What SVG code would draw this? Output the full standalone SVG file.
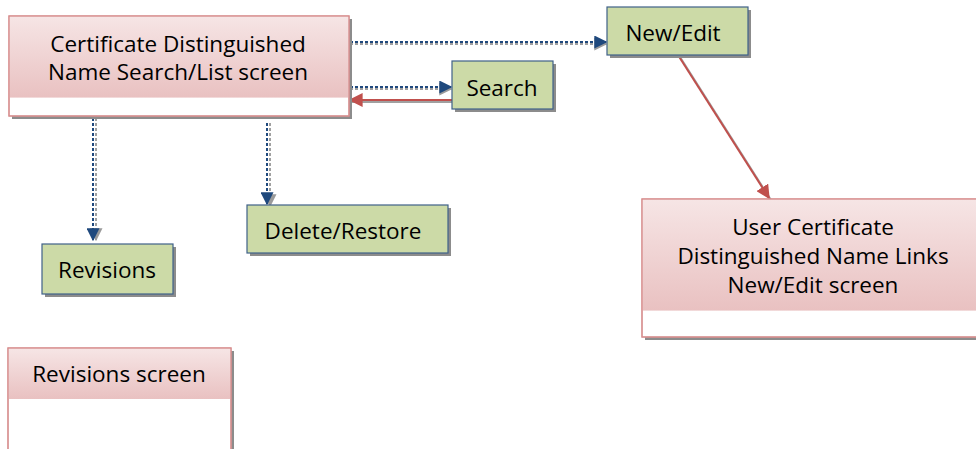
<svg xmlns="http://www.w3.org/2000/svg" width="976" height="449" viewBox="0 0 976 449">
<defs>
<linearGradient id="pink" x1="0" y1="0" x2="0" y2="1">
<stop offset="0" stop-color="#f6e5e5"/>
<stop offset="1" stop-color="#e9c1c1"/>
</linearGradient>
<marker id="ab" viewBox="0 0 10 10" refX="9" refY="5" markerWidth="13" markerHeight="13" markerUnits="userSpaceOnUse" orient="auto">
<path d="M0,0 L10,5 L0,10 z" fill="#1f497d"/>
</marker>
<marker id="ag" viewBox="0 0 10 10" refX="9" refY="5" markerWidth="13" markerHeight="13" markerUnits="userSpaceOnUse" orient="auto">
<path d="M0,0 L10,5 L0,10 z" fill="#9a9a9a"/>
</marker>
<marker id="ar" viewBox="0 0 10 10" refX="9" refY="5" markerWidth="14" markerHeight="14" markerUnits="userSpaceOnUse" orient="auto">
<path d="M0,0 L10,5 L0,10 z" fill="#c0504d"/>
</marker>
</defs>
<style>
text{font-family:"Open Sans","Liberation Sans",sans-serif;font-size:22.5px;fill:#000;text-anchor:middle}
.shadow{fill:#8c8c8c}
.screen{fill:#fff;stroke:#d88f8f;stroke-width:1.2}
.top{fill:url(#pink)}
.act{fill:#ccdaa7;stroke:#3f6189;stroke-width:1.2}
.dash{fill:none;stroke:#1f497d;stroke-width:2;stroke-dasharray:3 2}
.dashs{fill:none;stroke:#a0a0a0;stroke-width:2;stroke-dasharray:3 2}
.red{fill:none;stroke:#c0504d;stroke-width:2}
.reds{fill:none;stroke:#a0a0a0;stroke-width:2}
</style>
<rect width="976" height="449" fill="#fff"/>

<g id="connectors">
<line class="dashs" x1="350" y1="44" x2="606" y2="44" marker-end="url(#ag)"/>
<line class="dash" x1="350" y1="42" x2="606" y2="42" marker-end="url(#ab)"/>
<line class="dashs" x1="350" y1="89" x2="451" y2="89" marker-end="url(#ag)"/>
<line class="dash" x1="350" y1="87" x2="451" y2="87" marker-end="url(#ab)"/>
<line class="reds" x1="452" y1="102" x2="351" y2="102"/>
<line class="red" x1="452" y1="100" x2="350" y2="100" marker-end="url(#ar)"/>
<line class="dashs" x1="96" y1="118" x2="96" y2="240" marker-end="url(#ag)"/>
<line class="dash" x1="93" y1="118" x2="93" y2="240" marker-end="url(#ab)"/>
<line class="dashs" x1="270" y1="123" x2="270" y2="206" marker-end="url(#ag)"/>
<line class="dash" x1="267" y1="123" x2="267" y2="204" marker-end="url(#ab)"/>
<line class="reds" x1="680" y1="57" x2="771" y2="200"/>
<line class="red" x1="678" y1="55" x2="769" y2="198" marker-end="url(#ar)"/>
</g>

<g id="main-screen">
<rect class="shadow" x="12" y="19" width="340" height="100"/>
<rect class="screen" x="9" y="16" width="340" height="100"/>
<rect class="top" x="9.6" y="16.6" width="338.8" height="81"/>
<rect x="9" y="16" width="340" height="100" fill="none" stroke="#d88f8f" stroke-width="1.2"/>
<text x="178" y="52">Certificate Distinguished</text>
<text x="178" y="80">Name Search/List screen</text>
</g>

<g id="new-edit">
<rect class="shadow" x="610" y="10" width="141" height="48"/>
<rect class="act" x="607" y="7" width="141" height="48"/>
<text x="673" y="41">New/Edit</text>
</g>

<g id="search">
<rect class="shadow" x="455" y="64" width="101" height="48"/>
<rect class="act" x="452" y="61" width="101" height="48"/>
<text x="502" y="96">Search</text>
</g>

<g id="revisions">
<rect class="shadow" x="45" y="247" width="131" height="50"/>
<rect class="act" x="42" y="244" width="131" height="50"/>
<text x="107" y="278">Revisions</text>
</g>

<g id="delete-restore">
<rect class="shadow" x="250" y="208" width="201" height="48"/>
<rect class="act" x="247" y="205" width="201" height="48"/>
<text x="343" y="239">Delete/Restore</text>
</g>

<g id="user-cert-screen">
<rect class="shadow" x="645" y="202" width="335" height="138"/>
<rect class="screen" x="642" y="199" width="335" height="138"/>
<rect class="top" x="642.6" y="199.6" width="334" height="111"/>
<rect x="642" y="199" width="335" height="138" fill="none" stroke="#d88f8f" stroke-width="1.2"/>
<text x="813" y="235">User Certificate</text>
<text x="813" y="264">Distinguished Name Links</text>
<text x="813" y="293">New/Edit screen</text>
</g>

<g id="revisions-screen">
<rect class="shadow" x="11" y="351" width="223" height="110"/>
<rect class="screen" x="8" y="348" width="223" height="110"/>
<rect class="top" x="8.6" y="348.6" width="221.8" height="50.4"/>
<rect x="8" y="348" width="223" height="110" fill="none" stroke="#d88f8f" stroke-width="1.2"/>
<text x="119" y="382">Revisions screen</text>
</g>
</svg>
